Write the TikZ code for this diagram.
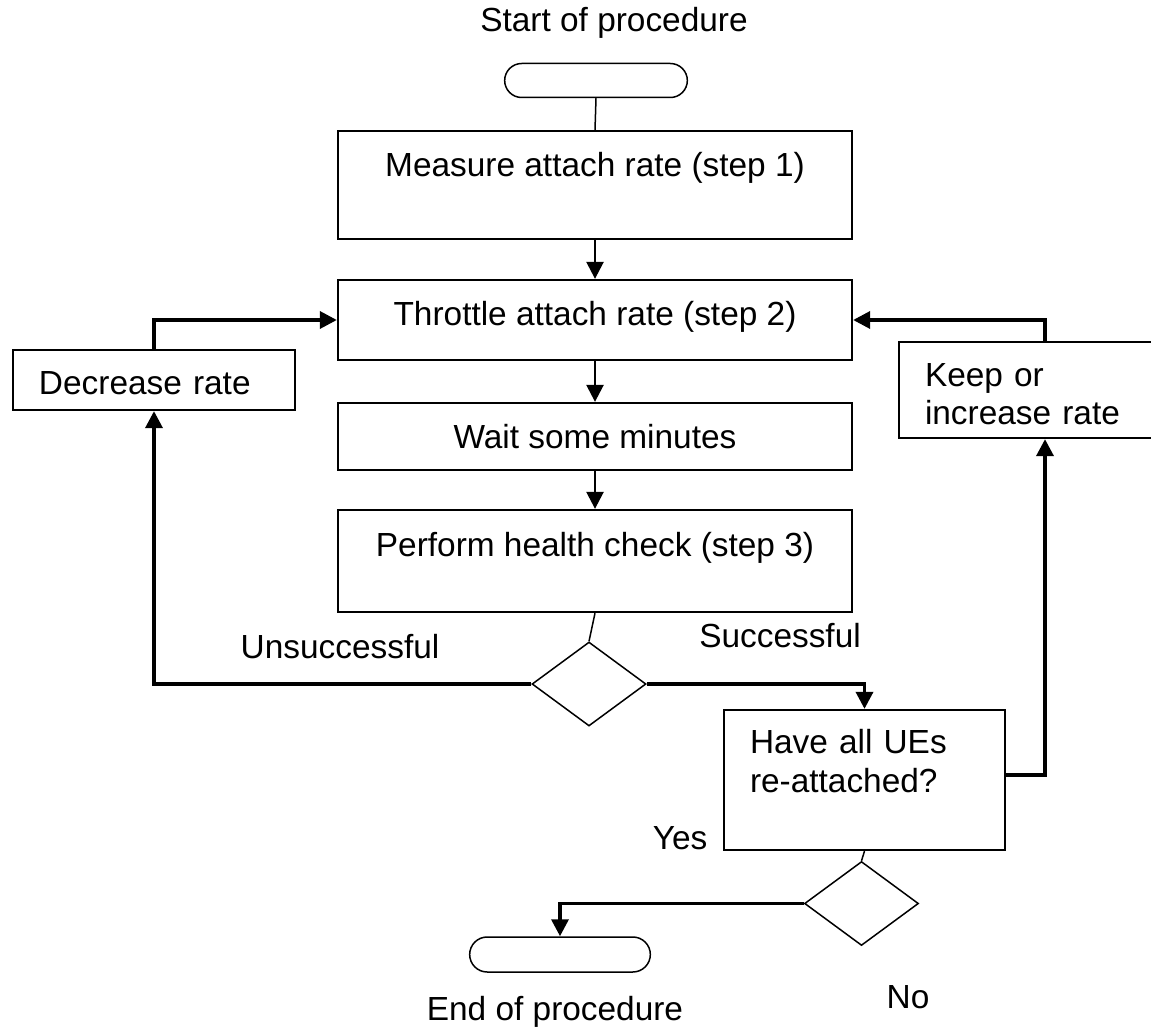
\documentclass[tikz,border=0pt]{standalone}
\usepackage{fontspec}
\setmainfont{Liberation Sans}
\usetikzlibrary{arrows.meta,shapes.geometric,shapes.misc}

\begin{document}
\begin{tikzpicture}[x=0.5pt,y=-0.5pt,
  >={Triangle[length=8.5pt,width=8.5pt]},
  every node/.style={font=\fontsize{16.7pt}{19pt}\selectfont},
  stepbox/.style={draw,line width=1.15pt,minimum width=257pt,inner ysep=0pt},
  sidebox/.style={draw,line width=1.15pt,inner xsep=13pt,inner ysep=0pt,align=left},
  term/.style={draw,rounded rectangle,line width=0.75pt,minimum width=98pt,minimum height=17pt},
  decide/.style={draw,diamond,line width=0.75pt,inner sep=0pt,minimum width=57pt,minimum height=42pt},
  flow/.style={line width=1.25pt,->},
  back/.style={line width=1.75pt,->},
  tie/.style={line width=0.75pt}]
  % Page size
  \useasboundingbox (0,0) rectangle (1151,1032);
  %
  % Start and end
  \node (startlabel) at (614,23) {Start of procedure};
  \node[term] (start) at (596,80.5) {};
  \node[term,minimum width=97pt,minimum height=17.5pt] (end) at (560,954.5) {};
  \node (endlabel) at (555,1012) {End of procedure};
  %
  % Main steps
  \node[stepbox,text height=23pt,text depth=31pt] (measure) at (595,185)
    {Measure attach rate (step 1)};
  \node[stepbox,text height=23pt,text depth=17pt] (throttle) at (595,320)
    {Throttle attach rate (step 2)};
  \node[stepbox,text height=22.5pt,text depth=11pt] (wait) at (595,436.5)
    {Wait some minutes};
  \node[stepbox,text height=23pt,text depth=28pt] (health) at (595,561)
    {Perform health check (step 3)};
  %
  % Side boxes
  \node[sidebox,text width=115pt,text height=22pt,text depth=8pt] (decrease)
    at (154,380) {Decrease rate};
  \node[sidebox,text width=101pt,text height=22pt,text depth=26pt] (keep)
    at (1026,390) {Keep or\\increase rate};
  \node[sidebox,text width=114.5pt,text height=21.5pt,text depth=48.5pt] (ue)
    at (864.5,780) {Have all UEs\\[0.5pt]re-attached?};
  %
  % Decisions
  \node[decide] (check) at (589,684) {};
  \node[decide] (done) at (861.5,903.5) {};
  %
  % Labels
  \node (unsucc) at (340,647) {Unsuccessful};
  \node (succ) at (780,636) {Successful};
  \node (yes) at (680,838) {Yes};
  \node (no) at (908,997) {No};
  %
  % Connectors
  \draw[tie] (start.south) -- (measure.north);
  \draw[flow] (measure.south) -- (throttle.north);
  \draw[flow] (throttle.south) -- (wait.north);
  \draw[flow] (wait.south) -- (health.north);
  \draw[tie] (health.south) -- (check.north);
  \draw[back] (check.west) -| (decrease.south);
  \draw[back] (decrease.north) |- (throttle.west);
  \draw[back] (check.east) -| (ue.north);
  \draw[back] ([yshift=2.5pt]ue.east) -| ([xshift=9.5pt]keep.south);
  \draw[back] ([xshift=9.5pt]keep.north) |- (throttle.east);
  \draw[tie] (ue.south) -- (done.north);
  \draw[back] (done.west) -| (end.north);
  %
\end{tikzpicture}
\end{document}
